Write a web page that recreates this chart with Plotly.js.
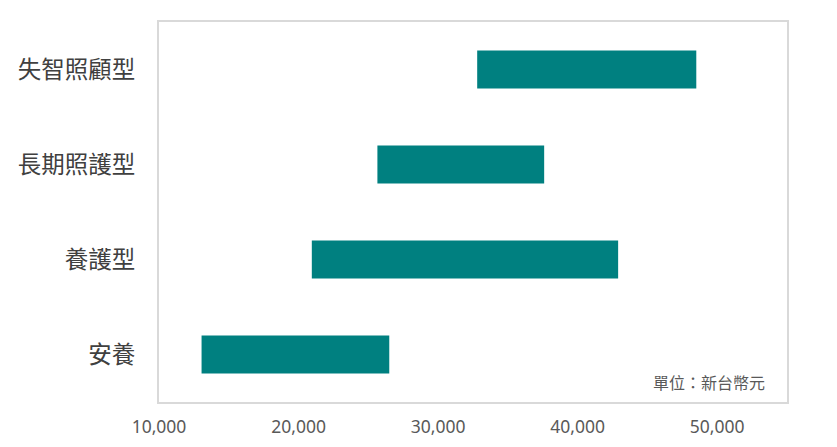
<!DOCTYPE html>
<html>
<head>
<meta charset="utf-8">
<script src="https://cdn.plot.ly/plotly-3.0.1.min.js"></script>
<style>html,body{margin:0;padding:0;background:#fff;}#chart{width:837px;height:447px;}</style>
</head>
<body>
<div id="chart"></div>
<script>
// Categories from top to bottom
const categories = ['失智照顧型', '長期照護型', '養護型', '安養'];
// Monthly fee range (NT$)
const lowValues = [32800, 25650, 20950, 13050];
const highValues = [48500, 37600, 42900, 26500];
const xTickValues = [10000, 20000, 30000, 40000, 50000];
const xTickLabels = ['10,000', '20,000', '30,000', '40,000', '50,000'];
const unitNote = '單位：新台幣元';

const trace = {
  type: 'bar',
  orientation: 'h',
  y: categories,
  base: lowValues,
  x: highValues.map((h, i) => h - lowValues[i]),
  width: 0.4,
  marker: {color: '#008080', line: {width: 0}},
  hoverinfo: 'skip'
};

const layout = {
  width: 837, height: 447,
  margin: {l: 159, r: 50, t: 22, b: 45},
  paper_bgcolor: '#ffffff', plot_bgcolor: '#ffffff',
  showlegend: false,
  font: {family: '"Noto Sans CJK TC", "Noto Sans", sans-serif'},
  xaxis: {
    range: [10000, 55000],
    tickvals: xTickValues, ticktext: xTickLabels,
    showgrid: false, zeroline: false,
    showline: true, mirror: true, linecolor: '#d9d9d9', linewidth: 2,
    ticks: '', ticklabelstandoff: 8,
    tickfont: {family: '"Noto Sans", "Open Sans", sans-serif', size: 17.5, color: '#595959'}
  },
  yaxis: {
    type: 'category',
    categoryorder: 'array', categoryarray: categories,
    autorange: 'reversed',
    showgrid: false, zeroline: false,
    showline: true, mirror: true, linecolor: '#d9d9d9', linewidth: 2,
    ticks: '', ticklabelstandoff: 17,
    tickfont: {family: '"Noto Sans CJK TC", sans-serif', size: 23.5, color: '#404040'}
  },
  annotations: [{
    text: unitNote, xref: 'paper', yref: 'paper',
    x: 0.968, y: 0.053, xanchor: 'right', yanchor: 'middle',
    showarrow: false,
    font: {family: '"Noto Sans CJK TC", sans-serif', size: 16, color: '#595959'}
  }]
};

Plotly.newPlot('chart', [trace], layout, {displayModeBar: false, staticPlot: true});
</script>
</body>
</html>
